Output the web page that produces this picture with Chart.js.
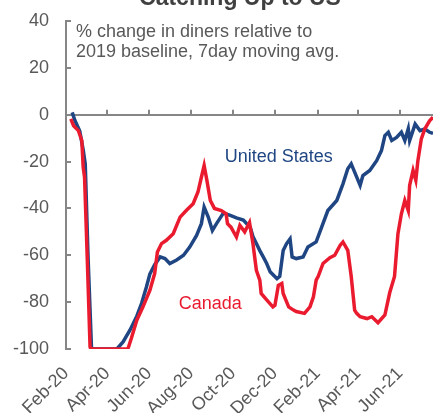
<!DOCTYPE html>
<html>
<head>
<meta charset="utf-8">
<script src="https://cdn.jsdelivr.net/npm/chart.js@4"></script>
<style>
html,body{margin:0;padding:0;background:#ffffff;overflow:hidden;}
#c{display:block;}
</style>
</head>
<body>
<canvas id="c" width="433" height="413"></canvas>
<script>
const titleText = 'Catching Up to US';
const noteLines = ['% change in diners relative to', '2019 baseline, 7day moving avg.'];
const seriesNames = ['United States', 'Canada'];
const axisStart = '2020-02-01';
const axisEnd = '2021-07-19';
const tickDates = ['2020-02-01','2020-04-01','2020-06-01','2020-08-01','2020-10-01','2020-12-01','2021-02-01','2021-04-01','2021-06-01'];
const tickLabels = ['Feb-20','Apr-20','Jun-20','Aug-20','Oct-20','Dec-20','Feb-21','Apr-21','Jun-21'];
const yMin = -100, yMax = 40, yStep = 20;

const usDates = ['2020-02-10','2020-02-14','2020-02-21','2020-02-26','2020-02-29','2020-03-04','2020-03-09','2020-03-10','2020-04-15','2020-04-24','2020-05-04','2020-05-14','2020-05-21','2020-05-28','2020-06-02','2020-06-09','2020-06-17','2020-06-24','2020-07-01','2020-07-11','2020-07-21','2020-07-30','2020-08-09','2020-08-16','2020-08-20','2020-08-26','2020-09-01','2020-09-07','2020-09-17','2020-09-27','2020-10-06','2020-10-16','2020-10-21','2020-10-26','2020-10-30','2020-11-04','2020-11-09','2020-11-14','2020-11-19','2020-11-24','2020-11-29','2020-12-04','2020-12-08','2020-12-13','2020-12-18','2020-12-23','2020-12-26','2021-01-01','2021-01-11','2021-01-18','2021-01-30','2021-02-07','2021-02-16','2021-03-01','2021-03-10','2021-03-17','2021-03-22','2021-03-27','2021-04-04','2021-04-08','2021-04-18','2021-04-28','2021-05-05','2021-05-10','2021-05-15','2021-05-20','2021-05-27','2021-06-03','2021-06-08','2021-06-13','2021-06-15','2021-06-23','2021-06-30','2021-07-07','2021-07-14','2021-07-19'];
const usValues = [1,-2.5,-7,-15,-21,-60,-99,-100,-100,-97,-92,-86,-80.5,-73.5,-68,-64,-60.7,-61.4,-63.5,-62,-60,-56.5,-51.5,-46.5,-39.4,-43.7,-49.4,-46.5,-42,-43,-44,-45,-46.5,-48,-52,-55,-58,-60.7,-63.5,-67,-68.5,-70,-69,-58,-55,-53,-60.7,-61.4,-60.7,-56.5,-54.3,-48,-40.9,-36.6,-29.5,-23.1,-21,-24.5,-30.2,-26,-23.8,-19.6,-15.3,-8.9,-7.5,-11,-9.7,-7.5,-11,-6,-11,-4,-6.8,-6.1,-7.5,-8];

const caDates = ['2020-02-08','2020-02-12','2020-02-19','2020-02-24','2020-02-26','2020-02-28','2020-03-03','2020-03-07','2020-03-08','2020-05-01','2020-05-06','2020-05-14','2020-05-23','2020-06-02','2020-06-09','2020-06-13','2020-06-19','2020-06-26','2020-07-06','2020-07-16','2020-07-25','2020-08-04','2020-08-11','2020-08-16','2020-08-20','2020-08-24','2020-08-29','2020-09-04','2020-09-14','2020-09-21','2020-09-23','2020-09-28','2020-10-06','2020-10-11','2020-10-18','2020-10-25','2020-10-30','2020-11-04','2020-11-09','2020-11-11','2020-11-19','2020-11-28','2020-12-01','2020-12-06','2020-12-11','2020-12-13','2020-12-21','2020-12-28','2021-01-01','2021-01-13','2021-01-21','2021-01-26','2021-01-30','2021-02-02','2021-02-09','2021-02-19','2021-02-26','2021-03-06','2021-03-10','2021-03-17','2021-03-22','2021-03-27','2021-03-30','2021-04-04','2021-04-14','2021-04-21','2021-04-30','2021-05-10','2021-05-17','2021-05-24','2021-05-29','2021-06-03','2021-06-08','2021-06-13','2021-06-15','2021-06-20','2021-06-24','2021-06-27','2021-07-02','2021-07-07','2021-07-14','2021-07-19'];
const caValues = [-1.8,-4.7,-6.8,-11,-22.4,-26.7,-62,-99,-100,-100,-95.5,-87.7,-82,-75,-67.8,-58.6,-55,-53.6,-50.8,-43.7,-40.9,-38,-33,-26.7,-21.7,-28,-36.6,-40,-40.9,-42.3,-46.5,-48,-52.2,-47.2,-50,-46,-55,-66.4,-70.6,-76.3,-79,-82,-81.3,-72.8,-72,-76.3,-82,-83.4,-84,-84.8,-82,-77.7,-70.6,-69,-63.5,-61,-60,-55.7,-54.3,-57.9,-69,-83.4,-84.8,-86.2,-87,-86.2,-88.8,-85.5,-76,-69,-50.8,-42.3,-36.6,-40.9,-30.2,-23.8,-28,-19.6,-10.3,-6.1,-2.6,-1.1];

// where the series name labels sit (date, value)
const usLabelAt = ['2020-09-19', -20.3];
const caLabelAt = ['2020-07-14', -83.1];

const usColor = '#1f4683';
const caColor = '#ea1a2f';
const axisColor = '#868686';
const textColor = '#595959';
const FONT = '"Liberation Sans", Arial, sans-serif';

const base = Date.UTC(2020, 1, 1);
function day(s) {
  const p = s.split('-').map(Number);
  return (Date.UTC(p[0], p[1] - 1, p[2]) - base) / 86400000;
}
function pts(dates, vals) { return dates.map((d, i) => ({ x: day(d), y: vals[i] })); }

const decor = {
  id: 'decor',
  afterDraw(chart) {
    const { ctx, chartArea, scales: { x, y } } = chart;
    const y0 = y.getPixelForValue(0);
    ctx.save();
    ctx.strokeStyle = axisColor;
    ctx.lineWidth = 2;
    ctx.beginPath();
    x.ticks.forEach(t => {
      const px = Math.round(x.getPixelForValue(t.value));
      if (px <= chartArea.left + 2) return;
      ctx.moveTo(px, y0); ctx.lineTo(px, y0 - 5);
    });
    y.ticks.forEach(t => {
      const py = Math.round(y.getPixelForValue(t.value));
      ctx.moveTo(chartArea.left, py); ctx.lineTo(chartArea.left + 5, py);
    });
    ctx.stroke();

    ctx.textAlign = 'left';
    ctx.textBaseline = 'alphabetic';
    ctx.font = '18px ' + FONT;
    ctx.fillStyle = textColor;
    ctx.fillText(noteLines[0], chartArea.left + 10, chartArea.top + 15.5);
    ctx.fillText(noteLines[1], chartArea.left + 10, chartArea.top + 36);

    ctx.fillStyle = usColor;
    ctx.fillText(seriesNames[0], x.getPixelForValue(day(usLabelAt[0])), y.getPixelForValue(usLabelAt[1]));
    ctx.fillStyle = caColor;
    ctx.fillText(seriesNames[1], x.getPixelForValue(day(caLabelAt[0])), y.getPixelForValue(caLabelAt[1]));

    ctx.fillStyle = '#404040';
    ctx.textAlign = 'center';
    ctx.font = 'bold 23px ' + FONT;
    ctx.fillText(titleText, 240, 5);
    ctx.restore();
  }
};

new Chart(document.getElementById('c'), {
  type: 'line',
  data: {
    datasets: [
      { label: seriesNames[1], data: pts(caDates, caValues), borderColor: caColor, borderWidth: 3.5, pointRadius: 0, tension: 0, order: 0 },
      { label: seriesNames[0], data: pts(usDates, usValues), borderColor: usColor, borderWidth: 3.5, pointRadius: 0, tension: 0, order: 1 }
    ]
  },
  options: {
    responsive: false,
    animation: false,
    devicePixelRatio: 1,
    layout: { padding: { left: 13, right: 0, top: 21, bottom: 0 } },
    plugins: { legend: { display: false }, tooltip: { enabled: false }, title: { display: false } },
    scales: {
      x: {
        type: 'linear',
        min: day(axisStart),
        max: day(axisEnd),
        afterBuildTicks: s => { s.ticks = tickDates.map(d => ({ value: day(d) })); },
        afterFit: s => { s.height = 64; },
        ticks: {
          autoSkip: false, minRotation: 45, maxRotation: 45, padding: 14,
          color: textColor, font: { family: FONT, size: 18 },
          callback: (v, i) => tickLabels[i]
        },
        grid: { display: false, drawTicks: false },
        border: { display: false }
      },
      y: {
        min: yMin, max: yMax,
        afterFit: s => { s.width = 53; s.paddingTop = 0; s.paddingBottom = 0; },
        ticks: { stepSize: yStep, padding: 17, color: textColor, font: { family: FONT, size: 18 } },
        grid: {
          drawTicks: false, lineWidth: 2,
          color: c => (c.tick && c.tick.value === 0) ? axisColor : 'rgba(0,0,0,0)'
        },
        border: { display: true, color: axisColor, width: 2 }
      }
    }
  },
  plugins: [decor]
});
</script>
</body>
</html>
